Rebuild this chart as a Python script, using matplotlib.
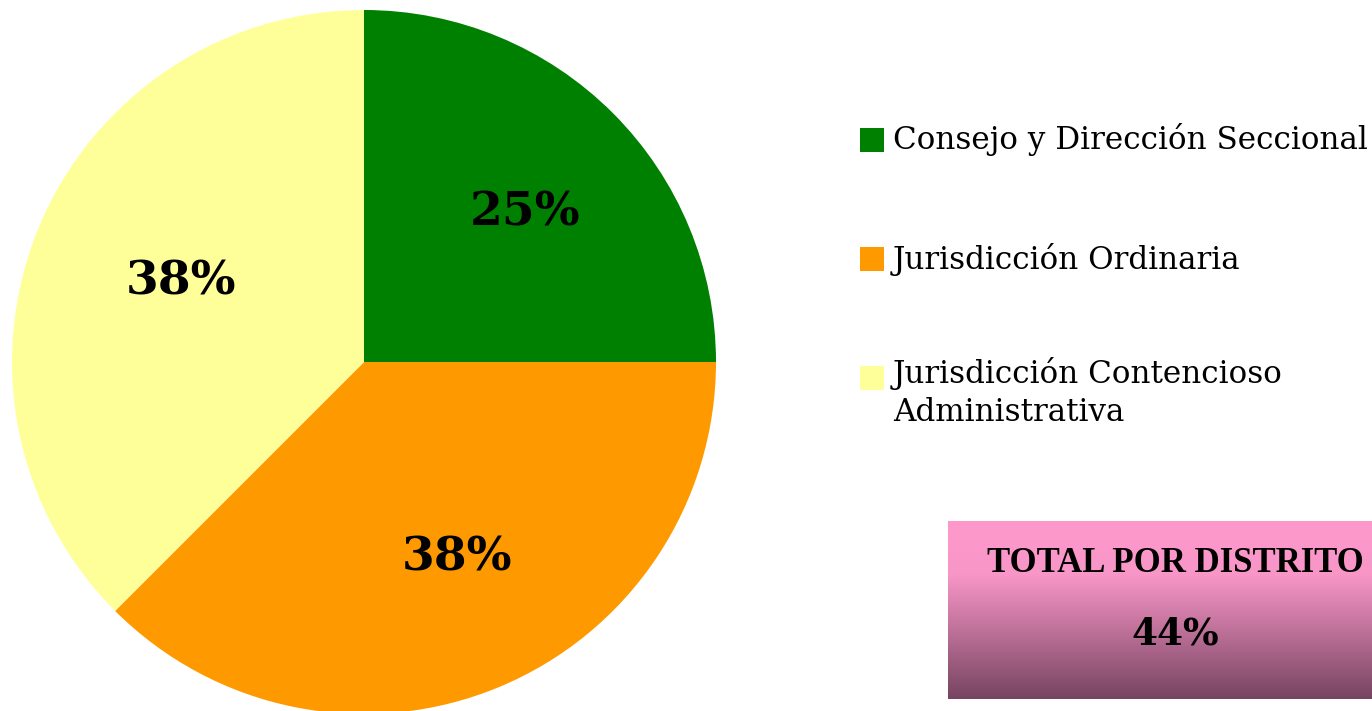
import numpy as np
import matplotlib
matplotlib.use("Agg")
import matplotlib.pyplot as plt
from matplotlib.patches import Rectangle
from matplotlib.colors import LinearSegmentedColormap

categories = ["Consejo y Dirección Seccional", "Jurisdicción Ordinaria",
              "Jurisdicción Contencioso\nAdministrativa"]
values = [25.0, 37.5, 37.5]
colors = ["#008000", "#FF9900", "#FFFF99"]
total_label = "TOTAL POR DISTRITO"
total_value = "44%"

W, H = 1372, 711
fig = plt.figure(figsize=(W / 100, H / 100), dpi=100)
ax = fig.add_axes([0, 0, 1, 1])

wedges, texts, autotexts = ax.pie(
    values, colors=colors, startangle=90, counterclock=False,
    center=(364, H - 362), radius=352, autopct="%.0f%%", pctdistance=0.6,
    wedgeprops=dict(linewidth=0), frame=True,
    textprops=dict(fontsize=34, fontweight="bold", family="DejaVu Serif", color="black"))
for t in autotexts:
    x, y = t.get_position()
    t.set_position((x + 12, y))
ax.set_xlim(0, W)
ax.set_ylim(0, H)
ax.set_aspect("equal")
ax.axis("off")

# Legend (manual)
leg_y = [140, 259, 378]
fs = 22.3
for lab, col, y in zip(categories, colors, leg_y):
    ax.add_patch(Rectangle((860, H - y - 12), 24, 24, facecolor=col, edgecolor="none"))
    if "\n" in lab:
        ax.text(893, H - y + 21, lab, fontsize=fs, family="DejaVu Serif", va="top",
                ha="left", linespacing=1.3)
    else:
        ax.text(893, H - y, lab, fontsize=fs, family="DejaVu Serif", va="center", ha="left")

# Gradient box
bx0, bx1, by0, by1 = 948, 1372, 521, 699
cmap = LinearSegmentedColormap.from_list("g", [(0, "#FF99CC"), (0.3, "#F896C8"), (1, "#774460")])
grad = np.linspace(0, 1, 256).reshape(-1, 1)
ax.imshow(grad, cmap=cmap, extent=(bx0, bx1, H - by1, H - by0), aspect="auto", zorder=2)
ax.text((bx0 + bx1) / 2 + 15, H - 563, total_label, fontsize=25, fontweight="bold",
        family="Liberation Serif", ha="center", va="center", zorder=3)
ax.text((bx0 + bx1) / 2 + 15, H - 634, total_value, fontsize=27, fontweight="bold",
        family="DejaVu Serif", ha="center", va="center", zorder=3)
ax.set_xlim(0, W)
ax.set_ylim(0, H)

fig.savefig("out.png", dpi=100)
